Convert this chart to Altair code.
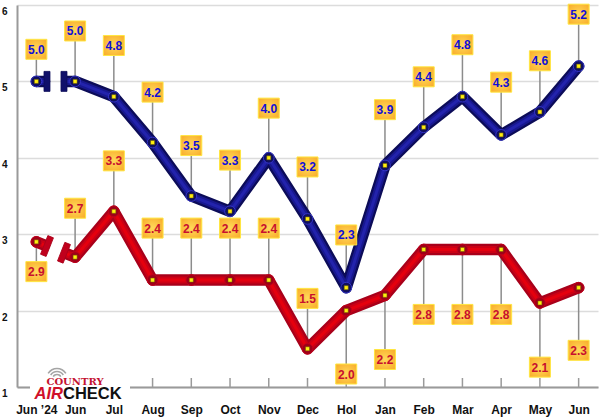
import json
import math
import altair as alt
import pandas as pd

# ---------------- data ----------------
months = ["Jun ’24", "Jun", "Jul", "Aug", "Sep", "Oct", "Nov", "Dec",
          "Hol", "Jan", "Feb", "Mar", "Apr", "May", "Jun"]
top_values = [5.0, 5.0, 4.8, 4.2, 3.5, 3.3, 4.0, 3.2, 2.3, 3.9, 4.4, 4.8, 4.3, 4.6, 5.2]
bottom_values = [2.9, 2.7, 3.3, 2.4, 2.4, 2.4, 2.4, 1.5, 2.0, 2.2, 2.8, 2.8, 2.8, 2.1, 2.3]
# where each value label box sits (in axis units)
top_label_at = [5.42, 5.66, 5.47, 4.86, 4.16, 3.97, 4.65, 3.88, 2.99, 4.63, 5.06, 5.48, 4.99, 5.27, 5.88]
bottom_label_at = [2.51, 3.34, 3.96, 3.08, 3.08, 3.08, 3.08, 2.16, 1.17, 1.36, 1.95, 1.95, 1.95, 1.26, 1.48]
y_ticks = [1, 2, 3, 4, 5, 6]

# ---------------- layout ----------------
W, H = 581, 382
X_DOM = [-0.5, 14.5]
Y_DOM = [1, 6]
PX_X = W / (X_DOM[1] - X_DOM[0])
PX_Y = H / (Y_DOM[1] - Y_DOM[0])
BARS = (0.274, 0.713)      # axis-break bars between first two points
STUB_END, RESUME = 0.21, 0.79
FONT = "Liberation Sans"

xaxis = alt.Axis(values=list(range(len(months))),
                 labelExpr=json.dumps(months, ensure_ascii=False) + "[datum.value]",
                 grid=False, ticks=False, tickSize=0, domain=True,
                 domainColor="#9a9a9a", domainWidth=2,
                 labelFont=FONT, labelFontWeight="bold", labelFontSize=12,
                 labelColor="#111111", labelPadding=17, labelFlush=False,
                 labelOverlap=False, title=None)
yaxis = alt.Axis(values=y_ticks, format="d", grid=True, gridColor="#dcdcdc",
                 gridWidth=1.5, ticks=False, tickSize=0, domain=True,
                 domainColor="#9a9a9a", domainWidth=2,
                 labelFont=FONT, labelFontWeight="bold", labelFontSize=10,
                 labelColor="#111111", labelPadding=10, labelOffset=6.5,
                 labelFlush=False, title=None)


def X(f="x"):
    return alt.X(f + ":Q", scale=alt.Scale(domain=X_DOM, nice=False, zero=False), axis=xaxis)


def Y(f="y"):
    return alt.Y(f + ":Q", scale=alt.Scale(domain=Y_DOM, nice=False, zero=False), axis=yaxis)


series = [
    dict(values=top_values, labels=top_label_at, outer="#0c0c58", mid="#18188f",
         inner="#2323ac", dot="#10105e", dotstroke="#3434c8", bar="#10106a", text="#1010d8"),
    dict(values=bottom_values, labels=bottom_label_at, outer="#a8001a", mid="#cc0014",
         inner="#e5000e", dot="#9e0018", dotstroke="#c0001c", bar="#c0001c", text="#c8102e"),
]

layers = []

# tick marks on x axis (pointing up)
ticks_df = pd.DataFrame({"x": list(range(len(months)))})
layers.append(alt.Chart(ticks_df).mark_rule(color="#9a9a9a", strokeWidth=1.5).encode(
    x=X(), y=alt.value(373), y2=alt.value(382)))

# logo
one = ticks_df.head(1)
layers.append(alt.Chart(one).mark_rect(color="white").encode(
    x=alt.value(13), x2=alt.value(113), y=alt.value(357), y2=alt.value(396)))
for r in (4.5, 7.5, 10.5):
    layers.append(alt.Chart(one).mark_arc(
        radius=r + 0.8, radius2=r - 0.8, theta=2 * math.pi - 1.0, theta2=2 * math.pi + 1.0,
        color="#a5a5a5").encode(x=alt.value(40), y=alt.value(374)))
layers.append(alt.Chart(one).mark_text(
    text="COUNTRY", font="DejaVu Serif", fontWeight="bold", fontSize=10,
    color="#c41230", align="center", baseline="alphabetic").encode(
    x=alt.value(58), y=alt.value(379.5)))
layers.append(alt.Chart(one).mark_text(
    text="AIR", font=FONT, fontWeight="bold", fontStyle="italic", fontSize=16.5,
    color="#d0102a", align="right", baseline="alphabetic").encode(
    x=alt.value(46), y=alt.value(394)))
layers.append(alt.Chart(one).mark_text(
    text="CHECK", font=FONT, fontWeight="bold", fontSize=16.5,
    color="#111111", align="left", baseline="alphabetic").encode(
    x=alt.value(46), y=alt.value(394)))

for s in series:
    v = s["values"]
    pts = pd.DataFrame({"x": list(range(len(v))), "y": v, "ly": s["labels"],
                        "t": [f"{a:.1f}" for a in v]})
    s["pts"] = pts
    # leader lines
    layers.append(alt.Chart(pts).mark_rule(color="#8c8c8c", strokeWidth=1.5).encode(
        x=X(), y=Y(), y2=alt.Y2("ly:Q")))

for s in series:
    v = s["values"]
    d = v[1] - v[0]
    stub = pd.DataFrame({"x": [0, STUB_END], "y": [v[0], v[0] + STUB_END * d], "o": [0, 1]})
    main = pd.DataFrame({"x": [RESUME] + list(range(1, len(v))),
                         "y": [v[0] + RESUME * d] + v[1:],
                         "o": list(range(len(v)))})
    for df in (stub, main):
        for col, w in ((s["outer"], 11.5), (s["mid"], 7), (s["inner"], 3)):
            layers.append(alt.Chart(df).mark_line(
                color=col, strokeWidth=w, strokeCap="round", strokeJoin="round").encode(
                x=X(), y=Y(), order="o:Q"))
    ang = math.degrees(math.atan2(-d * PX_Y, PX_X)) % 360
    bars = pd.DataFrame({"x": list(BARS), "y": [v[0] + b * d for b in BARS], "a": [ang, ang]})
    layers.append(alt.Chart(bars).mark_point(
        shape="M-0.3,-1L0.3,-1L0.3,1L-0.3,1Z", size=400, filled=True, opacity=1,
        fill=s["bar"], stroke=s["outer"], strokeWidth=0.8).encode(
        x=X(), y=Y(), angle=alt.Angle("a:Q", scale=None)))

box_fill = alt.RadialGradient(
    gradient="radial", r2=0.75,
    stops=[alt.GradientStop(offset=0, color="#ffd95a"),
           alt.GradientStop(offset=1, color="#f8a623")])

for s in series:
    pts = s["pts"]
    layers.append(alt.Chart(pts).mark_circle(
        size=115, color=s["dot"], opacity=1, stroke=s["dotstroke"], strokeWidth=1).encode(
        x=X(), y=Y()))
    layers.append(alt.Chart(pts).mark_square(
        size=16, color="#ffee11", opacity=1, stroke="#6b5a00", strokeWidth=0.5).encode(
        x=X(), y=Y()))

for s in series:
    pts = s["pts"]
    layers.append(alt.Chart(pts).mark_rect(
        fill=box_fill, stroke="#ffe640", strokeWidth=1,
        xOffset=-10.5, x2Offset=10.5, yOffset=-10, y2Offset=10).encode(
        x=X(), x2=alt.X2("x:Q"), y=Y("ly"), y2=alt.Y2("ly:Q")))
    layers.append(alt.Chart(pts).mark_text(
        font=FONT, fontWeight="bold", fontSize=12, color=s["text"],
        baseline="middle", align="center", dy=0.5).encode(
        x=X(), y=Y("ly"), text="t:N"))

chart = alt.layer(*layers).properties(
    width=W, height=H,
    padding={"left": 17, "top": 5, "right": 2, "bottom": 31},
    autosize=alt.AutoSizeParams(type="none"),
    background="white",
).configure_view(stroke=None)

chart.save("out.html", embed_options={"renderer": "svg", "actions": False})
